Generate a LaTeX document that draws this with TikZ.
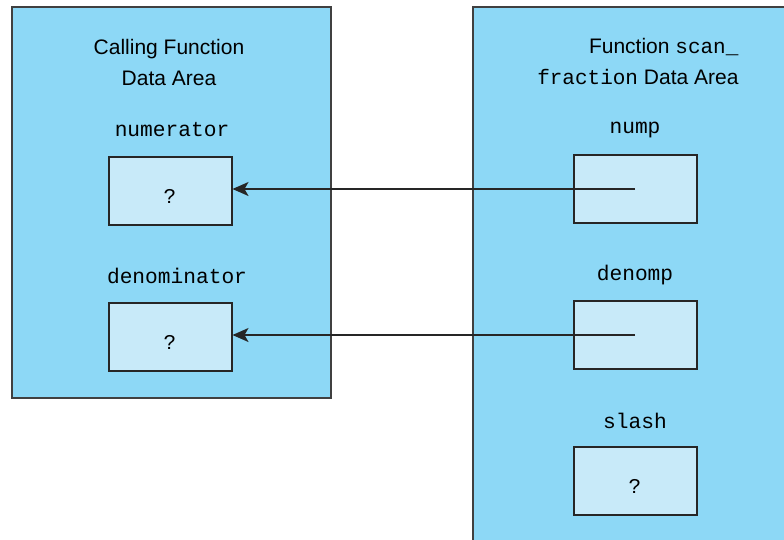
\documentclass[tikz,border=0pt]{standalone}
\usepackage{fontspec}
\setmainfont{Liberation Sans}
\setmonofont{Liberation Mono}
\usetikzlibrary{arrows.meta}

% Unknown cell value, set a little below the middle of its box
\newcommand{\unknownval}{\raisebox{-12.5pt}[0pt][0pt]{?}}

\begin{document}
\begin{tikzpicture}[x=1pt,y=-1pt]

\tikzset{
  areabox/.style={
    draw=black!75,
    fill=areablue,
    line width=1.5pt,
    anchor=north west,
    inner sep=0pt
  },
  cellbox/.style={
    draw=black!85,
    fill=cellblue,
    line width=2pt,
    minimum width=123pt,
    minimum height=68pt,
    inner sep=0pt,
    font=\fontsize{21}{22}\ttfamily
  },
  areatitle/.style={
    font=\fontsize{21}{31}\selectfont
  },
  varname/.style={
    font=\fontsize{21.2}{24}\ttfamily
  },
  pointer/.style={
    draw=black!85,
    line width=1.6pt,
    -{Stealth[length=16pt,width=14pt,inset=4pt]}
  }
}
\definecolor{areablue}{HTML}{8DD8F6}
\definecolor{cellblue}{HTML}{C8EAF9}

% Picture frame
\useasboundingbox (0,0) rectangle (784,539);
\clip (0,0) rectangle (784,539);

%% Calling function data area
\node[areabox, minimum width=319pt, minimum height=391pt] (callarea) at (11,6) {};

\node[areatitle, align=center] (calltitle) at (169,62)
  {Calling Function\\Data Area};

\node[varname] (numname) at (172,130) {numerator};
\node[cellbox] (numbox) at (170,191) {\unknownval};

\node[varname] (denname) at (177,276) {denominator};
\node[cellbox] (denbox) at (170,337) {\unknownval};

%% Function scan_fraction data area
\node[areabox, minimum width=330pt, minimum height=560pt] (scanarea) at (472,6) {};

\node[areatitle, align=right, anchor=east] (scantitle) at (742,61)
  {Function \texttt{scan\_}\\\texttt{fraction} Data Area};

\node[varname] (numpname) at (635,130) {nump};
\node[cellbox] (numpbox) at (635,189) {};

\node[varname] (denpname) at (635,275) {denomp};
\node[cellbox] (denpbox) at (635,335) {};

\node[varname] (slashname) at (635,421) {slash};
\node[cellbox] (slashbox) at (635,481) {\unknownval};

% Pointers back to the caller
\draw[pointer] (numpbox.center) -- (numpbox.center -| numbox.east);
\draw[pointer] (denpbox.center) -- (denpbox.center -| denbox.east);

\end{tikzpicture}
\end{document}
